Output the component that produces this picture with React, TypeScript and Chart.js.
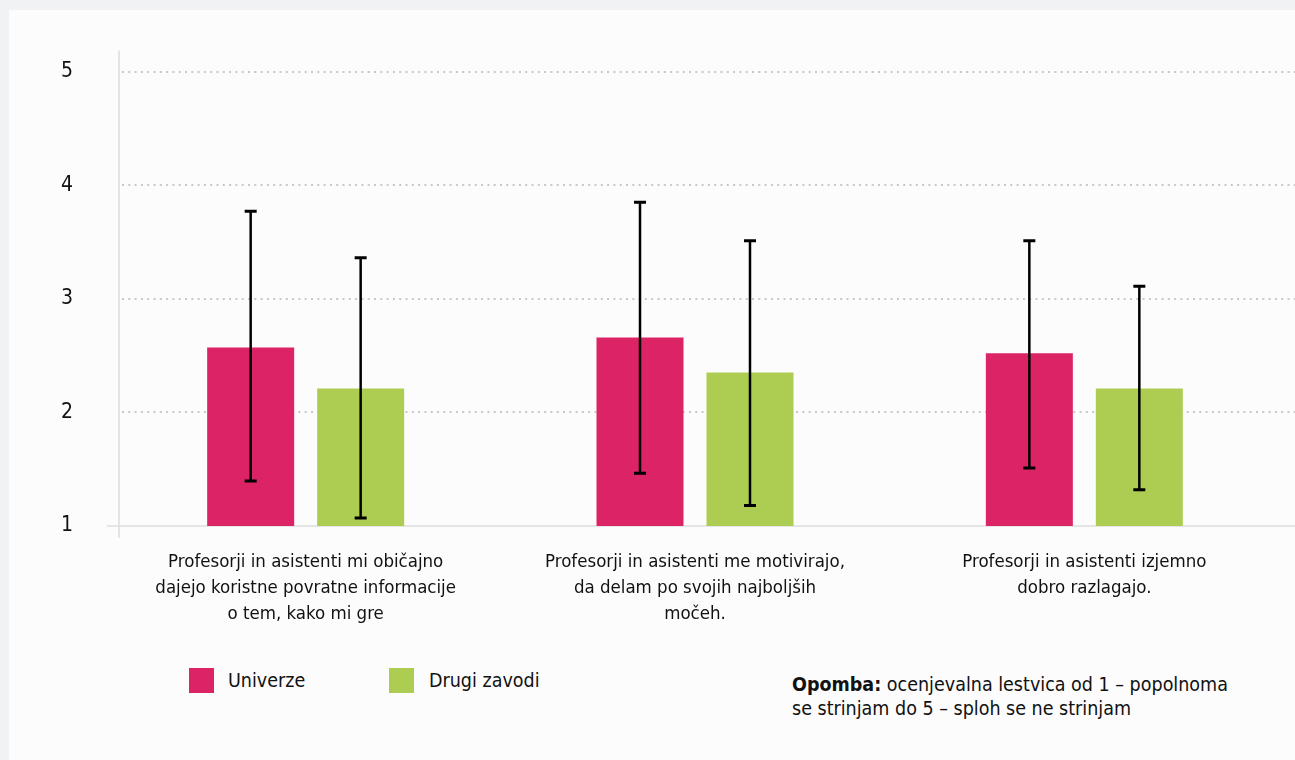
import React, { useEffect, useRef } from "react";
import { Chart, registerables } from "chart.js";
Chart.register(...registerables);

const categories: string[][] = [
  ["Profesorji in asistenti mi običajno", "dajejo koristne povratne informacije", "o tem, kako mi gre"],
  ["Profesorji in asistenti me motivirajo,", "da delam po svojih najboljših", "močeh."],
  ["Profesorji in asistenti izjemno", "dobro razlagajo."],
];
const seriesNames = ["Univerze", "Drugi zavodi"];
const seriesColors = ["#dc2365", "#adcd52"];
const univerzeMeans = [2.57, 2.66, 2.52];
const univerzeLow = [1.395, 1.465, 1.51];
const univerzeHigh = [3.77, 3.85, 3.51];
const drugiMeans = [2.21, 2.35, 2.21];
const drugiLow = [1.07, 1.18, 1.32];
const drugiHigh = [3.36, 3.51, 3.11];
const yTickValues = [1, 2, 3, 4, 5];
const noteBold = "Opomba:";
const noteText = " ocenjevalna lestvica od 1 – popolnoma";
const noteText2 = "se strinjam do 5 – sploh se ne strinjam";

const FONT = "'Liberation Sans Narrow', 'DejaVu Sans Condensed', sans-serif";

const errLows = [univerzeLow, drugiLow];
const errHighs = [univerzeHigh, drugiHigh];

const gridPlugin = {
  id: "customGrid",
  beforeDatasetsDraw(chart: any) {
    const ctx = chart.ctx;
    const y = chart.scales.y;
    const axisX = chart.chartArea.left + 8;
    ctx.save();
    ctx.strokeStyle = "#c8c8c8";
    ctx.lineWidth = 2;
    ctx.setLineDash([2, 4.3]);
    yTickValues.slice(1).forEach((v) => {
      const py = Math.round(y.getPixelForValue(v));
      ctx.beginPath();
      ctx.moveTo(axisX + 3, py);
      ctx.lineTo(chart.width, py);
      ctx.stroke();
    });
    ctx.setLineDash([]);
    ctx.strokeStyle = "#dddddd";
    ctx.lineWidth = 1.5;
    const base = y.getPixelForValue(yTickValues[0]);
    ctx.beginPath();
    ctx.moveTo(axisX - 12, base);
    ctx.lineTo(chart.width, base);
    ctx.moveTo(axisX, chart.chartArea.top);
    ctx.lineTo(axisX, base + 12);
    ctx.stroke();
    ctx.restore();
  },
};

const errorBarPlugin = {
  id: "errorBars",
  afterDatasetsDraw(chart: any) {
    const ctx = chart.ctx;
    const y = chart.scales.y;
    ctx.save();
    ctx.strokeStyle = "#000";
    chart.data.datasets.forEach((_ds: any, di: number) => {
      const meta = chart.getDatasetMeta(di);
      meta.data.forEach((bar: any, i: number) => {
        const x = bar.x;
        const yt = y.getPixelForValue(errHighs[di][i]);
        const yb = y.getPixelForValue(errLows[di][i]);
        ctx.lineWidth = 2.5;
        ctx.beginPath();
        ctx.moveTo(x, yt);
        ctx.lineTo(x, yb);
        ctx.stroke();
        ctx.lineWidth = 3;
        ctx.beginPath();
        ctx.moveTo(x - 6, yt);
        ctx.lineTo(x + 6, yt);
        ctx.moveTo(x - 6, yb);
        ctx.lineTo(x + 6, yb);
        ctx.stroke();
      });
    });
    ctx.restore();
  },
};

export default function App() {
  const ref = useRef<HTMLCanvasElement>(null);
  useEffect(() => {
    if (!ref.current) return;
    const chart = new Chart(ref.current, {
      type: "bar",
      data: {
        labels: categories,
        datasets: [
          { label: seriesNames[0], data: univerzeMeans, backgroundColor: seriesColors[0], borderWidth: 0 },
          { label: seriesNames[1], data: drugiMeans, backgroundColor: seriesColors[1], borderWidth: 0 },
        ],
      },
      options: {
        animation: false,
        responsive: false,
        devicePixelRatio: 1,
        layout: { padding: { top: 49, right: 16, left: 0, bottom: 0 } },
        datasets: { bar: { categoryPercentage: 0.565, barPercentage: 0.791 } },
        plugins: { legend: { display: false }, tooltip: { enabled: false } },
        scales: {
          x: {
            grid: { display: false, drawTicks: false },
            border: { display: false },
            ticks: {
              color: "#111",
              padding: 23,
              maxRotation: 0,
              autoSkip: false,
              font: { family: FONT, size: 18.5, lineHeight: "26px" },
            },
            afterFit: (s: any) => {
              s.height = 114;
            },
          },
          y: {
            min: 1,
            max: 5.184,
            grid: { display: false, drawTicks: false },
            border: { display: false },
            ticks: {
              color: "#111",
              padding: 38,
              font: { family: FONT, size: 21 },
            },
            afterBuildTicks: (s: any) => {
              s.ticks = yTickValues.map((v) => ({ value: v }));
            },
            afterFit: (s: any) => {
              s.width = 111;
            },
          },
        },
      },
      plugins: [gridPlugin, errorBarPlugin],
    });
    return () => chart.destroy();
  }, []);

  const textStyle: React.CSSProperties = { fontFamily: FONT, fontSize: 19.5, color: "#111", position: "absolute", whiteSpace: "nowrap" };
  return (
    <div style={{ position: "fixed", left: 0, top: 0, width: 1295, height: 760, background: "#f1f2f4", overflow: "hidden" }}>
      <div style={{ position: "absolute", left: 9, top: 10, width: 1286, height: 750, background: "#fcfcfc" }} />
      <canvas ref={ref} width={1295} height={640} style={{ position: "absolute", left: 0, top: 0, width: 1295, height: 640 }} />
      <div style={{ position: "absolute", left: 189, top: 668, width: 25, height: 25, background: seriesColors[0] }} />
      <div style={{ ...textStyle, left: 228, top: 667, lineHeight: "28px" }}>{seriesNames[0]}</div>
      <div style={{ position: "absolute", left: 389, top: 668, width: 25, height: 25, background: seriesColors[1] }} />
      <div style={{ ...textStyle, left: 429, top: 667, lineHeight: "28px" }}>{seriesNames[1]}</div>
      <div style={{ ...textStyle, left: 792, top: 673, lineHeight: "24px" }}>
        <b>{noteBold}</b>
        {noteText}
        <br />
        {noteText2}
      </div>
    </div>
  );
}
